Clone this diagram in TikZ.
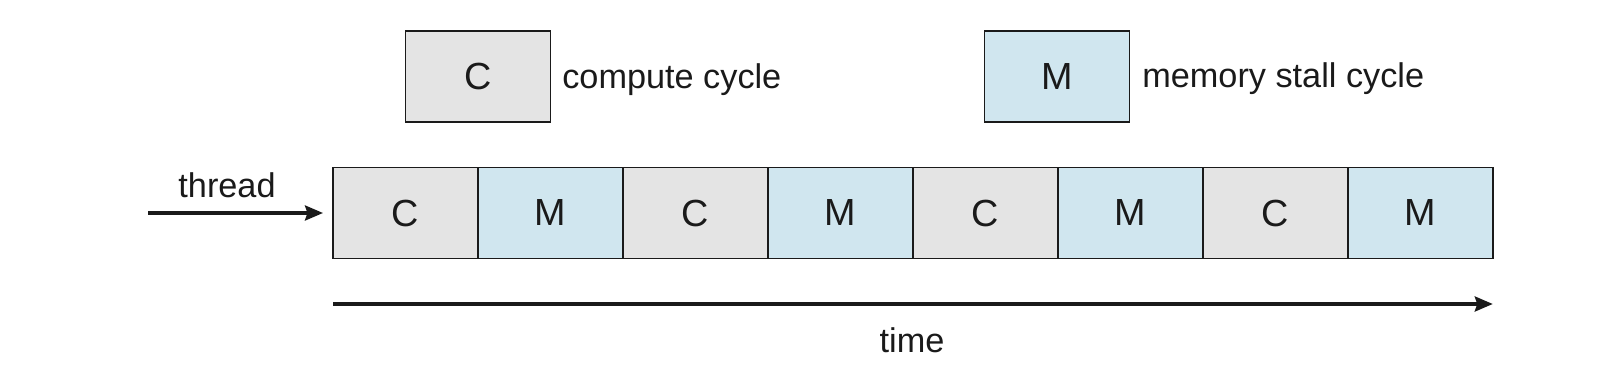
\documentclass[tikz,border=0pt]{standalone}
\usepackage{fontspec}
\setmainfont{Liberation Sans}
\usetikzlibrary{arrows.meta,positioning}
\definecolor{CycGray}{HTML}{E4E4E4}
\definecolor{CycBlue}{HTML}{D0E6EF}
\definecolor{CycInk}{HTML}{1A1A1A}
\tikzset{
  cyclabel/.style={font=\fontsize{19.5}{22}\selectfont, text=CycInk, inner sep=0pt},
  cycbox/.style={draw=CycInk, line width=1.1pt, minimum width=2.9cm, minimum height=1.82cm, inner sep=0pt, outer sep=0pt, font=\fontsize{21.5}{24}\selectfont, text=CycInk},
  compbox/.style={cycbox, fill=CycGray},
  membox/.style={cycbox, fill=CycBlue},
  cycarrow/.style={-{Stealth[length=0.36cm, width=0.3cm, inset=0.05cm]}, line width=1.9pt, draw=CycInk}
}
\begin{document}
\begin{tikzpicture}[x=0.02cm, y=-0.02cm, every node/.style={cyclabel}]
\useasboundingbox (0,0) rectangle (1598,388);
% legend
\node[compbox] (legc) at (478,76.5) {C};
\node[anchor=base west] (legctext) at (562,89) {compute cycle};
\node[membox] (legm) at (1057,76.5) {M};
\node[anchor=base west] (legmtext) at (1142,88) {memory stall cycle};
% thread
\node[compbox] (b1) at (405.5,213) {C};
\foreach \i/\j/\s/\t in {2/1/membox/M,3/2/compbox/C,4/3/membox/M,5/4/compbox/C,6/5/membox/M,7/6/compbox/C,8/7/membox/M}
  \node[\s, right=0pt of b\j] (b\i) {\t};
\coordinate (tstart) at (148,213);
\draw[cycarrow] (tstart) -- ([xshift=-0.2cm]b1.west);
\node[anchor=base] (thread) at (227,197) {thread};
% time
\coordinate (ta) at (b1.west |- 0,304);
\coordinate (tb) at (b8.east |- 0,304);
\draw[cycarrow] (ta) -- (tb);
\node[anchor=base] (time) at (912,352) {time};
\end{tikzpicture}
\end{document}
